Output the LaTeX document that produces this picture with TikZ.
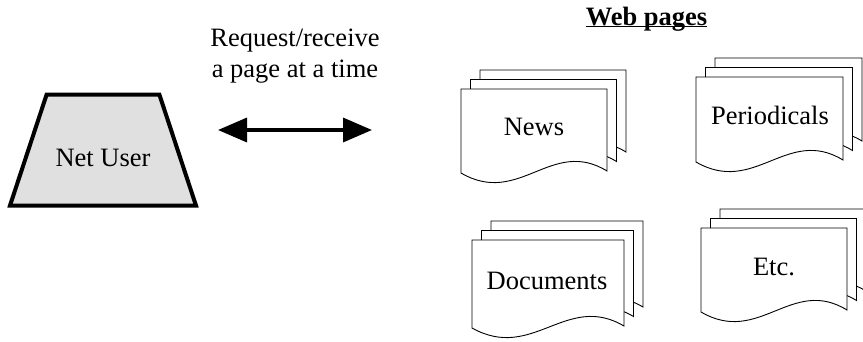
\documentclass[tikz,border=0pt]{standalone}
\usepackage{fontspec}
\setmainfont{Liberation Serif}
\usetikzlibrary{arrows.meta,shapes.geometric}

% stack of three sheets; #1,#2 = top left of front sheet, #3 = width, #4 = height
\newcommand\webpage[4]{%
  \foreach \k in {2,1,0}{
    \filldraw[fill=white,draw=black,line width=0.9pt,shift={(#1+9.5*\k,#2-9.5*\k)}]
      (0,0) -- (#3,0) -- (#3,#4-2)
      .. controls (0.62*#3,#4-36) and (0.4*#3,#4+34) .. (0,#4) -- cycle;
  }}

\begin{document}
\begin{tikzpicture}[x=1pt,y=-1pt,>={Triangle[length=29pt,width=24pt]},font=\fontsize{26.5}{31}\selectfont]
\clip (0,0) rectangle (863,341);
% net user
\node[trapezium,trapezium angle=72,trapezium stretches=true,minimum width=186pt,minimum height=111pt,
  draw,line width=4pt,fill=black!12] (user) at (103,150) {};
\node[anchor=base] (userlabel) at (103,166) {Net User};
% request arrow
\coordinate (reqL) at (218,130);
\coordinate (reqR) at (372,130);
\draw[<->,line width=3.5pt] (reqL) -- (reqR);
\node[align=center] (request) at (295,56) {Request/receive\\a page at a time};
% web pages
\node[anchor=base,inner sep=0pt] (webtitle) at (646.5,25) {\bfseries Web pages};
\draw[line width=1.5pt] ([yshift=-1.5pt]webtitle.base west) -- ([yshift=-1.5pt]webtitle.base east);
\webpage{461}{89}{146}{84}
\node[anchor=base] (news) at (534,135) {News};
\webpage{696}{77}{147}{85}
\node[anchor=base] (periodicals) at (770,124) {Periodicals};
\webpage{472}{240}{152}{88}
\node[anchor=base] (documents) at (547,289) {Documents};
\webpage{701}{228}{146}{84}
\node[anchor=base] (etc) at (774,275) {Etc.};
\end{tikzpicture}
\end{document}
